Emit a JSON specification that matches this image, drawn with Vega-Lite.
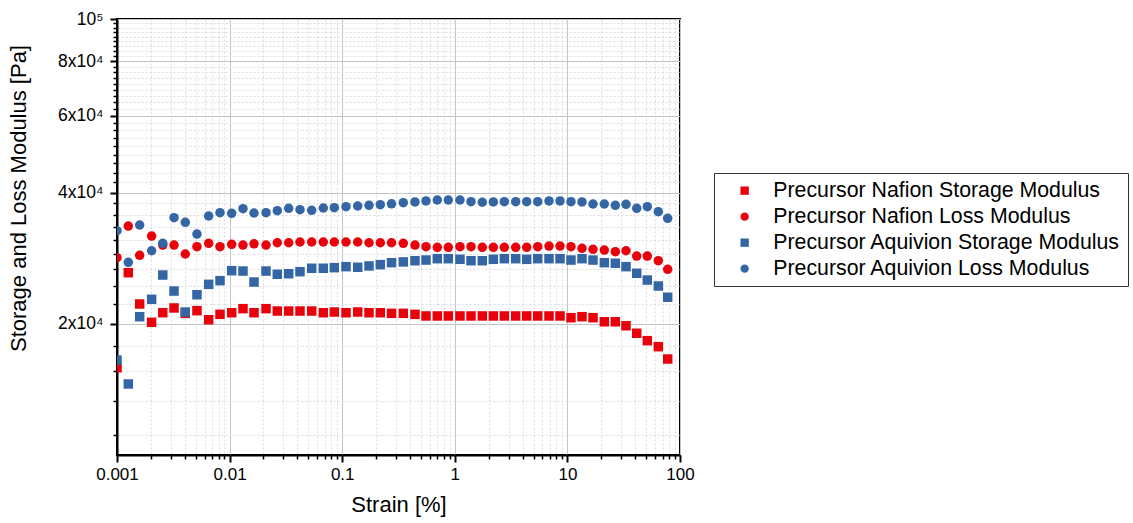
{
  "$schema": "https://vega.github.io/schema/vega-lite/v6.json",
  "width": 563,
  "height": 436,
  "autosize": {"type": "none"},
  "padding": {"left": 117, "top": 19, "right": 453, "bottom": 68},
  "background": "white",
  "config": {
    "view": {"stroke": "black", "strokeWidth": 2},
    "axis": {"labelFont": "Liberation Sans", "titleFont": "Liberation Sans", "labelColor": "black", "titleColor": "black", "titleFontWeight": "normal"}
  },
  "data": {"values": [
    {"x": 0.001, "NS": 15850, "NL": 28350, "AS": 16510, "AL": 32690},
    {"x": 0.00126, "NS": 26190, "NL": 33510, "AS": 14550, "AL": 27670},
    {"x": 0.00159, "NS": 22200, "NL": 28710, "AS": 20760, "AL": 33690},
    {"x": 0.00203, "NS": 20150, "NL": 31780, "AS": 22760, "AL": 29410},
    {"x": 0.00255, "NS": 21200, "NL": 30310, "AS": 25870, "AL": 30580},
    {"x": 0.00321, "NS": 21740, "NL": 30310, "AS": 23770, "AL": 35020},
    {"x": 0.00404, "NS": 21130, "NL": 28910, "AS": 21280, "AL": 34180},
    {"x": 0.00513, "NS": 21430, "NL": 30040, "AS": 23310, "AL": 32120},
    {"x": 0.00652, "NS": 20430, "NL": 30580, "AS": 24630, "AL": 35330},
    {"x": 0.00822, "NS": 21020, "NL": 30040, "AS": 25110, "AL": 35950},
    {"x": 0.01044, "NS": 21200, "NL": 30420, "AS": 26470, "AL": 35840},
    {"x": 0.01315, "NS": 21660, "NL": 30310, "AS": 26420, "AL": 36720},
    {"x": 0.01647, "NS": 21200, "NL": 30500, "AS": 24930, "AL": 35900},
    {"x": 0.02106, "NS": 21660, "NL": 30310, "AS": 26420, "AL": 35950},
    {"x": 0.02652, "NS": 21390, "NL": 30680, "AS": 25970, "AL": 36340},
    {"x": 0.03349, "NS": 21390, "NL": 30680, "AS": 26050, "AL": 36800},
    {"x": 0.04219, "NS": 21390, "NL": 30800, "AS": 26330, "AL": 36530},
    {"x": 0.05358, "NS": 21390, "NL": 30800, "AS": 26810, "AL": 36410},
    {"x": 0.06795, "NS": 21200, "NL": 30800, "AS": 26810, "AL": 36860},
    {"x": 0.08509, "NS": 21280, "NL": 30800, "AS": 26900, "AL": 36920},
    {"x": 0.1081, "NS": 21200, "NL": 30800, "AS": 27040, "AL": 37110},
    {"x": 0.1373, "NS": 21280, "NL": 30800, "AS": 26950, "AL": 37250},
    {"x": 0.173, "NS": 21200, "NL": 30680, "AS": 27140, "AL": 37390},
    {"x": 0.218, "NS": 21200, "NL": 30680, "AS": 27330, "AL": 37510},
    {"x": 0.2741, "NS": 21130, "NL": 30680, "AS": 27610, "AL": 37680},
    {"x": 0.3488, "NS": 21130, "NL": 30580, "AS": 27720, "AL": 37910},
    {"x": 0.4431, "NS": 21020, "NL": 30310, "AS": 27900, "AL": 38050},
    {"x": 0.5549, "NS": 20840, "NL": 30040, "AS": 28000, "AL": 38250},
    {"x": 0.6992, "NS": 20840, "NL": 29950, "AS": 28200, "AL": 38450},
    {"x": 0.8756, "NS": 20840, "NL": 29950, "AS": 28200, "AL": 38450},
    {"x": 1.112, "NS": 20840, "NL": 30040, "AS": 28110, "AL": 38450},
    {"x": 1.393, "NS": 20840, "NL": 30040, "AS": 27900, "AL": 38110},
    {"x": 1.755, "NS": 20840, "NL": 29950, "AS": 27900, "AL": 37990},
    {"x": 2.198, "NS": 20840, "NL": 29950, "AS": 28110, "AL": 38050},
    {"x": 2.752, "NS": 20840, "NL": 29950, "AS": 28200, "AL": 38110},
    {"x": 3.475, "NS": 20840, "NL": 29950, "AS": 28200, "AL": 38110},
    {"x": 4.35, "NS": 20840, "NL": 29950, "AS": 28110, "AL": 38110},
    {"x": 5.447, "NS": 20840, "NL": 30040, "AS": 28200, "AL": 38110},
    {"x": 6.865, "NS": 20840, "NL": 30150, "AS": 28200, "AL": 38250},
    {"x": 8.6, "NS": 20840, "NL": 30150, "AS": 28200, "AL": 38250},
    {"x": 10.76, "NS": 20650, "NL": 30040, "AS": 28000, "AL": 38110},
    {"x": 13.48, "NS": 20760, "NL": 29790, "AS": 28200, "AL": 38050},
    {"x": 16.88, "NS": 20650, "NL": 29630, "AS": 28000, "AL": 37640},
    {"x": 21.27, "NS": 20210, "NL": 29520, "AS": 27610, "AL": 37640},
    {"x": 26.64, "NS": 20210, "NL": 29260, "AS": 27530, "AL": 37390},
    {"x": 33.15, "NS": 19790, "NL": 29410, "AS": 27040, "AL": 37580},
    {"x": 41.26, "NS": 19020, "NL": 28600, "AS": 26110, "AL": 36800},
    {"x": 51.24, "NS": 18290, "NL": 28600, "AS": 25190, "AL": 37110},
    {"x": 64.18, "NS": 17720, "NL": 27900, "AS": 24410, "AL": 36140},
    {"x": 77.77, "NS": 16600, "NL": 26660, "AS": 23000, "AL": 34900}
  ]},
  "transform": [{"fold": ["NS", "NL", "AS", "AL"], "as": ["k", "v"]}],
  "resolve": {"axis": {"x": "independent", "y": "independent"}},
  "layer": [
    {
      "mark": {"type": "point", "opacity": 0},
      "encoding": {
        "x": {"field": "x", "type": "quantitative", "scale": {"type": "log", "domain": [0.001, 100], "nice": false},
          "axis": {"orient": "bottom", "values": [0.002,0.003,0.004,0.005,0.006,0.007,0.008,0.009,0.02,0.03,0.04,0.05,0.06,0.07,0.08,0.09,0.2,0.3,0.4,0.5,0.6,0.7,0.8,0.9,2,3,4,5,6,7,8,9,20,30,40,50,60,70,80,90],
            "labels": false, "domain": false, "title": null, "tickSize": 4, "tickWidth": 1.5, "tickColor": "black",
            "grid": true, "gridColor": "#dcdcdc", "gridDash": [2, 2], "gridWidth": 1}},
        "y": {"field": "v", "type": "quantitative", "scale": {"type": "log", "domain": [10000, 100000], "nice": false},
          "axis": {"orient": "left", "values": [11111.1,13333.3,15555.6,17777.8,22222.2,24444.4,26666.7,28888.9,31111.1,33333.3,35555.6,37777.8,42222.2,44444.4,46666.7,48888.9,51111.1,53333.3,55555.6,57777.8,62222.2,64444.4,66666.7,68888.9,71111.1,73333.3,75555.6,77777.8,82222.2,84444.4,86666.7,88888.9,91111.1,93333.3,95555.6,97777.8],
            "labels": false, "domain": false, "title": null, "tickSize": 4, "tickWidth": 1.5, "tickColor": "black",
            "grid": true, "gridColor": "#dcdcdc", "gridDash": [2, 2], "gridWidth": 1}}
      }
    },
    {
      "mark": {"type": "point", "filled": true, "opacity": 1, "size": 90, "clip": true},
      "encoding": {
        "x": {"field": "x", "type": "quantitative", "scale": {"type": "log", "domain": [0.001, 100], "nice": false},
          "axis": {"orient": "bottom", "values": [0.001, 0.01, 0.1, 1, 10, 100], "labelExpr": "format(datum.value, '~g')",
            "labelFlush": false, "labelOverlap": false, "labelFontSize": 17, "labelPadding": 4,
            "tickSize": 7, "tickWidth": 2, "tickColor": "black", "domainColor": "black", "domainWidth": 2,
            "grid": true, "gridColor": "#c4c4c4", "gridWidth": 1,
            "title": "Strain [%]", "titleFontSize": 22, "titlePadding": 12}},
        "y": {"field": "v", "type": "quantitative", "scale": {"type": "log", "domain": [10000, 100000], "nice": false},
          "axis": {"orient": "left", "values": [20000, 40000, 60000, 80000, 100000],
            "labelExpr": "datum.value == 100000 ? '10⁵' : (datum.value / 10000) + 'x10⁴'",
            "labelFlush": false, "labelOverlap": false, "labelFontSize": 17.5, "labelPadding": 7,
            "tickSize": 7, "tickWidth": 2, "tickColor": "black", "domainColor": "black", "domainWidth": 2,
            "grid": true, "gridColor": "#c4c4c4", "gridWidth": 1,
            "title": "Storage and Loss Modulus [Pa]", "titleFontSize": 22, "titleX": -99, "titleY": 179, "titleBaseline": "middle", "titleAlign": "center"}},
        "color": {"field": "k", "type": "nominal",
          "scale": {"domain": ["NS", "NL", "AS", "AL"], "range": ["#e8000b", "#e8000b", "#3465a5", "#3465a5"]},
          "legend": {"orient": "none", "legendX": 597, "legendY": 154, "title": null,
            "labelExpr": "datum.label == 'NS' ? 'Precursor Nafion Storage Modulus' : datum.label == 'NL' ? 'Precursor Nafion Loss Modulus' : datum.label == 'AS' ? 'Precursor Aquivion Storage Modulus' : 'Precursor Aquivion Loss Modulus'",
            "labelFont": "Liberation Sans", "labelFontSize": 21.3, "labelColor": "black", "labelLimit": 500,
            "symbolSize": 70, "strokeColor": "#333333", "fillColor": "white", "padding": 7, "rowPadding": 4,
            "labelOffset": 18, "symbolOffset": 13}},
        "shape": {"field": "k", "type": "nominal",
          "scale": {"domain": ["NS", "NL", "AS", "AL"], "range": ["square", "circle", "square", "circle"]}}
      }
    }
  ]
}
